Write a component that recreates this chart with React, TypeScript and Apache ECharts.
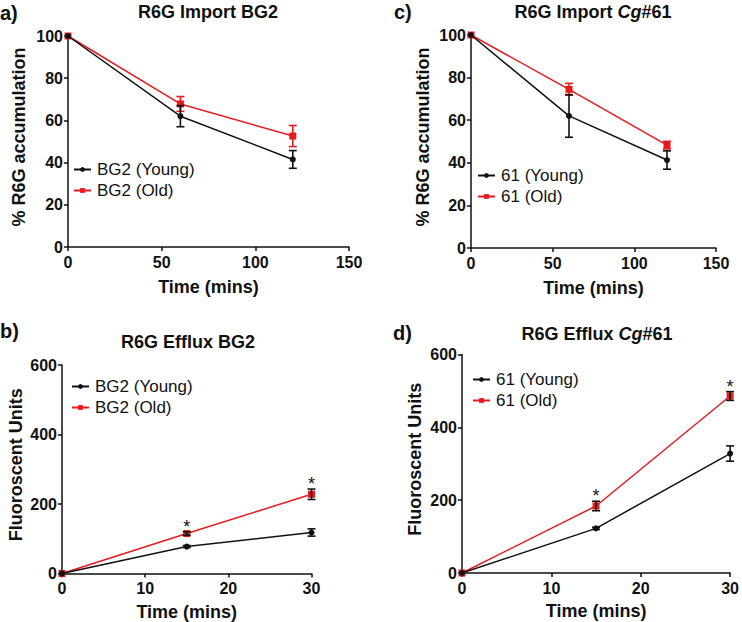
import React, { useEffect, useRef } from "react";
import * as echarts from "echarts";

// ---- Data ----
const importTimes = [0, 60, 120];
const bg2ImportYoung = [100, 62, 41.5];
const bg2ImportYoungErr = [0, 5, 4.2];
const bg2ImportOld = [100, 67.8, 52.6];
const bg2ImportOldErr = [0, 3.5, 5];
const cg61ImportYoung = [100, 62, 41.3];
const cg61ImportYoungErr = [0, 10, 4.3];
const cg61ImportOld = [100, 74.5, 48.3];
const cg61ImportOldErr = [0, 2.8, 1.8];

const effluxTimes = [0, 15, 30];
const bg2EffluxYoung = [0, 77.6, 118];
const bg2EffluxYoungErr = [0, 3, 10.5];
const bg2EffluxOld = [0, 115, 228];
const bg2EffluxOldErr = [0, 5, 15];
const cg61EffluxYoung = [0, 122.6, 328];
const cg61EffluxYoungErr = [0, 3, 21];
const cg61EffluxOld = [0, 184, 486];
const cg61EffluxOldErr = [0, 13, 12];
const effluxSignificant = [false, true, true];

const importXTicks = { min: 0, max: 150, interval: 50 };
const importYTicks = { min: 0, max: 100, interval: 20 };
const effluxXTicks = { min: 0, max: 30, interval: 10 };
const effluxYTicks = { min: 0, max: 600, interval: 200 };

const RED = "#e8191f";
const BLACK = "#111111";
const FONT = "'Liberation Sans', Arial, sans-serif";

function pts(xs: number[], ys: number[]) {
  return xs.map((x, i) => [x, ys[i]]);
}
function errPts(xs: number[], ys: number[], es: number[]) {
  return xs.map((x, i) => [x, ys[i] - es[i], ys[i] + es[i]]);
}

function errorSeries(idx: number, data: number[][], color: string) {
  return {
    type: "custom",
    xAxisIndex: idx,
    yAxisIndex: idx,
    z: 5,
    data,
    encode: { x: 0, y: [1, 2] },
    renderItem: (params: any, api: any) => {
      const x = api.value(0);
      const lo = api.value(1);
      const hi = api.value(2);
      if (lo === hi) return { type: "group", children: [] };
      const top = api.coord([x, hi]);
      const bot = api.coord([x, lo]);
      const w = 4;
      const st = { stroke: color, lineWidth: 1.6 };
      return {
        type: "group",
        children: [
          { type: "line", shape: { x1: top[0], y1: top[1], x2: bot[0], y2: bot[1] }, style: st },
          { type: "line", shape: { x1: top[0] - w, y1: top[1], x2: top[0] + w, y2: top[1] }, style: st },
          { type: "line", shape: { x1: bot[0] - w, y1: bot[1], x2: bot[0] + w, y2: bot[1] }, style: st },
        ],
      };
    },
  };
}

function starSeries(idx: number, xs: number[], ys: number[], es: number[], sig: boolean[]) {
  const data = xs.map((x, i) => [x, ys[i] + es[i], sig[i] ? 1 : 0]);
  return {
    type: "custom",
    xAxisIndex: idx,
    yAxisIndex: idx,
    z: 6,
    data,
    renderItem: (params: any, api: any) => {
      if (!api.value(2)) return { type: "group", children: [] };
      const p = api.coord([api.value(0), api.value(1)]);
      return {
        type: "text",
        x: p[0],
        y: p[1] - 5,
        style: {
          text: "*",
          fill: BLACK,
          fontSize: 18,
          fontFamily: FONT,
          align: "center",
          verticalAlign: "middle",
        },
      };
    },
  };
}

function lineSeries(idx: number, name: string, data: number[][], color: string, symbol: string, size: number) {
  return {
    type: "line",
    name,
    xAxisIndex: idx,
    yAxisIndex: idx,
    data,
    symbol,
    symbolSize: size,
    showSymbol: true,
    itemStyle: { color },
    lineStyle: { color, width: 1.5 },
    z: symbol === "circle" ? 4 : 3,
  };
}

function xAxis(idx: number, ticks: any, gap: number) {
  return {
    type: "value",
    gridIndex: idx,
    ...ticks,
    name: "Time (mins)",
    nameLocation: "middle",
    nameGap: gap,
    nameTextStyle: { fontFamily: FONT, fontWeight: "bold", fontSize: 18, color: BLACK },
    axisLine: { show: true, lineStyle: { color: BLACK, width: 1.5 } },
    axisTick: { show: true, length: 4, lineStyle: { color: BLACK, width: 1.5 } },
    axisLabel: { fontFamily: FONT, fontWeight: "bold", fontSize: 16, color: BLACK, margin: 7 },
    splitLine: { show: false },
  };
}

function yAxis(idx: number, ticks: any, name: string, gap: number) {
  return {
    type: "value",
    gridIndex: idx,
    ...ticks,
    name,
    nameLocation: "middle",
    nameGap: gap,
    nameTextStyle: {
      fontFamily: FONT,
      fontWeight: "bold",
      fontSize: 18,
      color: BLACK,
      padding: [0, 0, 0, 9],
    },
    axisLine: { show: true, lineStyle: { color: BLACK, width: 1.5 } },
    axisTick: { show: true, length: 4, lineStyle: { color: BLACK, width: 1.5 } },
    axisLabel: { fontFamily: FONT, fontWeight: "bold", fontSize: 16, color: BLACK, margin: 5 },
    splitLine: { show: false },
  };
}

function legend(left: number, top: number, names: string[]) {
  return {
    left,
    top,
    orient: "vertical",
    padding: 0,
    itemGap: 4,
    itemWidth: 17,
    itemHeight: 6,
    selectedMode: false,
    data: names,
    textStyle: { fontFamily: FONT, fontSize: 17, color: BLACK, lineHeight: 17, padding: [0, 0, 0, 1] },
  };
}

function titleText(x: number, y: number, text: string) {
  return {
    type: "text",
    x,
    y,
    style: {
      text,
      align: "center",
      verticalAlign: "middle",
      fill: BLACK,
      fontFamily: FONT,
      fontWeight: "bold",
      fontSize: 18,
      rich: {
        b: { fontFamily: FONT, fontWeight: "bold", fontSize: 18, fill: BLACK },
        i: { fontFamily: FONT, fontWeight: "bold", fontStyle: "italic", fontSize: 18, fill: BLACK },
      },
    },
  };
}

function panelLabel(x: number, y: number, text: string) {
  return {
    type: "text",
    x,
    y,
    style: {
      text,
      align: "left",
      verticalAlign: "middle",
      fill: BLACK,
      fontFamily: FONT,
      fontWeight: "bold",
      fontSize: 20,
    },
  };
}

export default function App() {
  const ref = useRef<HTMLDivElement>(null);
  useEffect(() => {
    if (!ref.current) return;
    const chart = echarts.init(ref.current, null, { renderer: "svg" });
    const option: any = {
      animation: false,
      backgroundColor: "#ffffff",
      grid: [
        { left: 68, top: 36, width: 281, height: 211 },
        { left: 471, top: 35, width: 245, height: 213 },
        { left: 62, top: 365, width: 249.5, height: 208.5 },
        { left: 462, top: 354.5, width: 271.5, height: 218.5 },
      ],
      xAxis: [
        xAxis(0, importXTicks, 31),
        xAxis(1, importXTicks, 31),
        xAxis(2, effluxXTicks, 29),
        xAxis(3, effluxXTicks, 29),
      ],
      yAxis: [
        yAxis(0, importYTicks, "% R6G accumulation", 40),
        yAxis(1, importYTicks, "% R6G accumulation", 39),
        yAxis(2, effluxYTicks, "Fluoroscent Units", 37),
        yAxis(3, effluxYTicks, "Fluoroscent Units", 38),
      ],
      legend: [
        legend(73, 161, ["BG2 (Young)", "BG2 (Old)"]),
        legend(477, 167, ["61 (Young)", "61 (Old)"]),
        legend(71, 378, ["BG2 (Young)", "BG2 (Old)"]),
        legend(472, 371, ["61 (Young)", "61 (Old)"]),
      ],
      series: [
        // panel a
        lineSeries(0, "BG2 (Old)", pts(importTimes, bg2ImportOld), RED, "rect", 7),
        lineSeries(0, "BG2 (Young)", pts(importTimes, bg2ImportYoung), BLACK, "circle", 6),
        errorSeries(0, errPts(importTimes, bg2ImportOld, bg2ImportOldErr), RED),
        errorSeries(0, errPts(importTimes, bg2ImportYoung, bg2ImportYoungErr), BLACK),
        // panel c
        lineSeries(1, "61 (Old)", pts(importTimes, cg61ImportOld), RED, "rect", 7),
        lineSeries(1, "61 (Young)", pts(importTimes, cg61ImportYoung), BLACK, "circle", 6),
        errorSeries(1, errPts(importTimes, cg61ImportOld, cg61ImportOldErr), RED),
        errorSeries(1, errPts(importTimes, cg61ImportYoung, cg61ImportYoungErr), BLACK),
        // panel b
        lineSeries(2, "BG2 (Old)", pts(effluxTimes, bg2EffluxOld), RED, "rect", 7),
        lineSeries(2, "BG2 (Young)", pts(effluxTimes, bg2EffluxYoung), BLACK, "circle", 6),
        errorSeries(2, errPts(effluxTimes, bg2EffluxOld, bg2EffluxOldErr), BLACK),
        errorSeries(2, errPts(effluxTimes, bg2EffluxYoung, bg2EffluxYoungErr), BLACK),
        starSeries(2, effluxTimes, bg2EffluxOld, bg2EffluxOldErr, effluxSignificant),
        // panel d
        lineSeries(3, "61 (Old)", pts(effluxTimes, cg61EffluxOld), RED, "rect", 7),
        lineSeries(3, "61 (Young)", pts(effluxTimes, cg61EffluxYoung), BLACK, "circle", 6),
        errorSeries(3, errPts(effluxTimes, cg61EffluxOld, cg61EffluxOldErr), BLACK),
        errorSeries(3, errPts(effluxTimes, cg61EffluxYoung, cg61EffluxYoungErr), BLACK),
        starSeries(3, effluxTimes, cg61EffluxOld, cg61EffluxOldErr, effluxSignificant),
      ],
      graphic: [
        panelLabel(0, 13, "a)"),
        panelLabel(394, 12, "c)"),
        panelLabel(0, 331, "b)"),
        panelLabel(393, 333, "d)"),
        titleText(208, 12, "R6G Import BG2"),
        titleText(593, 12, "{b|R6G Import }{i|Cg}{b|#61}"),
        titleText(188, 342, "R6G Efflux BG2"),
        titleText(597, 334, "{b|R6G Efflux }{i|Cg}{b|#61}"),
      ],
    };
    chart.setOption(option);
    return () => chart.dispose();
  }, []);
  return (
    <div
      ref={ref}
      style={{ position: "fixed", left: 0, top: 0, width: 742, height: 622, background: "#fff" }}
    />
  );
}
